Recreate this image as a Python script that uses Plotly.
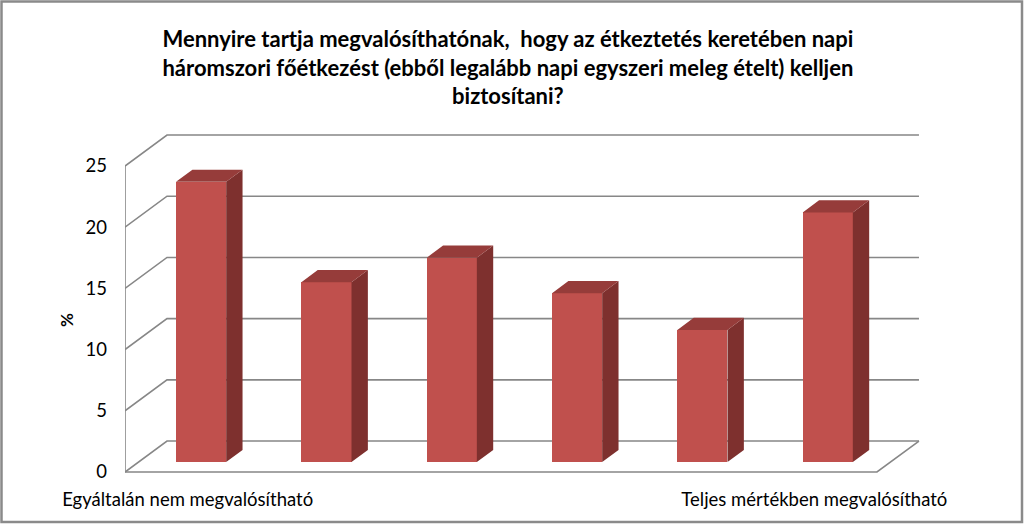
import plotly.graph_objects as go

# ---- data ----
categories = ["Egyáltalán nem megvalósítható", "2", "3", "4", "5", "Teljes mértékben megvalósítható"]
values = [22.9, 14.7, 16.7, 13.8, 10.8, 20.4]
tick_values = [0, 5, 10, 15, 20, 25]
tick_labels = ["0", "5", "10", "15", "20", "25"]
shown_labels = ["Egyáltalán nem megvalósítható", "", "", "", "", "Teljes mértékben megvalósítható"]
y_title = "%"
title_text = ("Mennyire tartja megvalósíthatónak,  hogy az étkeztetés keretében napi<br>"
              "háromszori főétkezést (ebből legalább napi egyszeri meleg ételt) kelljen<br>"
              "biztosítani?")

# ---- styling / geometry (3D oblique look) ----
FRONT = "#C0504D"
SIDE = "#7E302E"
TOP = "#963C3A"
GRID = "#878787"
DX, DY = 0.335, 2.53          # full depth offset (data units)
F0 = 0.32                      # bar front position within depth
BD = 0.39                      # bar depth fraction
BW = 0.40                      # bar width
n = len(values)

L, R, T, B = 125, 99, 130, 47
W, H = 1024, 527
pw, ph = W - L - R, H - T - B
xr = [0, pw / 125.33]
yr = [-(480 - 472) / 12.24, (472 - 130) / 12.24]

bx0, by0 = F0 * DX, F0 * DY
bdx, bdy = BD * DX, BD * DY
centers = [i + 0.5 + bx0 for i in range(n)]

fig = go.Figure()

fig.add_trace(go.Bar(
    x=centers, y=values, base=[by0] * n, width=BW,
    marker=dict(color=FRONT, line=dict(width=0)),
    hoverinfo="skip", showlegend=False,
))

tx, ty, sx, sy = [], [], [], []
for c, v in zip(centers, values):
    xl, xrt = c - BW / 2, c + BW / 2
    top = by0 + v
    tx += [xl, xrt, xrt + bdx, xl + bdx, xl, None]
    ty += [top, top, top + bdy, top + bdy, top, None]
    sx += [xrt, xrt + bdx, xrt + bdx, xrt, xrt, None]
    sy += [by0, by0 + bdy, top + bdy, top, by0, None]

fig.add_trace(go.Scatter(x=sx, y=sy, fill="toself", fillcolor=SIDE, mode="lines",
                         line=dict(width=0, color=SIDE), hoverinfo="skip", showlegend=False))
fig.add_trace(go.Scatter(x=tx, y=ty, fill="toself", fillcolor=TOP, mode="lines",
                         line=dict(width=0, color=TOP), hoverinfo="skip", showlegend=False))

shapes = []
for t in tick_values:
    shapes.append(dict(type="path", xref="x", yref="y", layer="below",
                       path=f"M 0,{t} L {DX},{t + DY} L {n + DX},{t + DY}",
                       line=dict(color=GRID, width=1.6)))
shapes.append(dict(type="path", xref="x", yref="y", layer="below",
                   path=f"M 0,{tick_values[-1]} L 0,0 L {n},0 L {n + DX},{DY}",
                   line=dict(color=GRID, width=1.6)))
# outer border
shapes.append(dict(type="rect", xref="paper", yref="paper",
                   x0=(1.5 - L) / pw, x1=(1022 - L) / pw,
                   y0=(T + ph - 522) / ph, y1=(T + ph - 1.5) / ph,
                   line=dict(color="#8A8A8A", width=2.5)))

fig.add_annotation(text=f"<b>{y_title}</b>", xref="paper", yref="paper",
                   x=(66 - L) / pw, y=(T + ph - 320) / ph, showarrow=False,
                   textangle=-90, font=dict(size=17, family="Lato", color="#000000"),
                   xanchor="center", yanchor="middle")

fig.update_layout(
    width=W, height=H,
    margin=dict(l=L, r=R, t=T, b=B),
    paper_bgcolor="white", plot_bgcolor="white",
    font=dict(family="Lato", color="#000000"),
    shapes=shapes,
    title=dict(text=title_text, x=0.496, xref="container", xanchor="center",
               y=1 - 47 / H, yanchor="top",
               font=dict(family="Lato", size=22, color="#000000", weight="bold")),
    xaxis=dict(range=xr, showgrid=False, zeroline=False, showline=False,
               tickmode="array", tickvals=[i + 0.5 for i in range(n)], ticktext=shown_labels,
               ticks="", tickfont=dict(size=18.5, family="Lato"), ticklabelstandoff=6,
               fixedrange=True),
    yaxis=dict(range=yr, showgrid=False, zeroline=False, showline=False,
               tickmode="array", tickvals=tick_values, ticktext=tick_labels,
               ticks="", tickfont=dict(size=18.5, family="Lato"), ticklabelstandoff=17,
               fixedrange=True),
    bargap=0,
)

fig.write_html("out.html", config={"displayModeBar": False},
               post_script="document.body.style.margin='0';document.body.style.overflow='hidden';")
